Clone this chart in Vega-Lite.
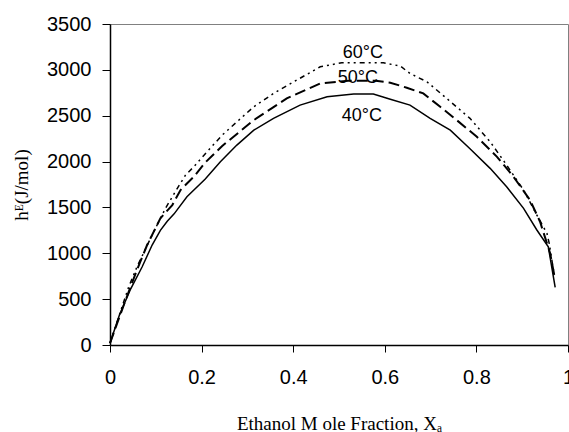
{
  "$schema": "https://vega.github.io/schema/vega-lite/v6.json",
  "width": 458,
  "height": 321,
  "autosize": {"type": "none"},
  "padding": {"left": 110, "top": 24, "right": 1, "bottom": 87},
  "background": "white",
  "config": {
    "view": {"stroke": "#808080", "strokeWidth": 1},
    "axis": {"grid": false, "domainColor": "black", "tickColor": "black", "domainWidth": 1.5, "tickWidth": 1, "labelColor": "black", "titleColor": "black", "labelFont": "Liberation Sans", "labelFontSize": 20, "titleFont": "Liberation Serif", "titleFontWeight": "normal", "titleFontSize": 19, "labelFlush": false, "labelOverlap": false}
  },
  "datasets": {
    "curves": [
      {"series": "40°C", "x": 0, "y": 20},
      {"series": "40°C", "x": 0.02, "y": 320},
      {"series": "40°C", "x": 0.045, "y": 610},
      {"series": "40°C", "x": 0.07, "y": 850},
      {"series": "40°C", "x": 0.092, "y": 1090},
      {"series": "40°C", "x": 0.11, "y": 1250},
      {"series": "40°C", "x": 0.125, "y": 1350},
      {"series": "40°C", "x": 0.14, "y": 1430},
      {"series": "40°C", "x": 0.168, "y": 1616},
      {"series": "40°C", "x": 0.208, "y": 1810},
      {"series": "40°C", "x": 0.241, "y": 1998},
      {"series": "40°C", "x": 0.277, "y": 2180},
      {"series": "40°C", "x": 0.314, "y": 2343},
      {"series": "40°C", "x": 0.357, "y": 2471},
      {"series": "40°C", "x": 0.415, "y": 2616},
      {"series": "40°C", "x": 0.474, "y": 2707},
      {"series": "40°C", "x": 0.532, "y": 2736},
      {"series": "40°C", "x": 0.575, "y": 2736},
      {"series": "40°C", "x": 0.612, "y": 2680},
      {"series": "40°C", "x": 0.655, "y": 2616},
      {"series": "40°C", "x": 0.699, "y": 2471},
      {"series": "40°C", "x": 0.743, "y": 2343},
      {"series": "40°C", "x": 0.786, "y": 2140},
      {"series": "40°C", "x": 0.83, "y": 1926},
      {"series": "40°C", "x": 0.866, "y": 1726},
      {"series": "40°C", "x": 0.903, "y": 1490},
      {"series": "40°C", "x": 0.932, "y": 1254},
      {"series": "40°C", "x": 0.957, "y": 1071},
      {"series": "40°C", "x": 0.972, "y": 629},
      {"series": "50°C", "x": 0, "y": 20},
      {"series": "50°C", "x": 0.034, "y": 490},
      {"series": "50°C", "x": 0.056, "y": 782},
      {"series": "50°C", "x": 0.081, "y": 1090},
      {"series": "50°C", "x": 0.11, "y": 1381},
      {"series": "50°C", "x": 0.136, "y": 1526},
      {"series": "50°C", "x": 0.154, "y": 1690},
      {"series": "50°C", "x": 0.183, "y": 1835},
      {"series": "50°C", "x": 0.208, "y": 1990},
      {"series": "50°C", "x": 0.245, "y": 2170},
      {"series": "50°C", "x": 0.314, "y": 2452},
      {"series": "50°C", "x": 0.386, "y": 2689},
      {"series": "50°C", "x": 0.459, "y": 2852},
      {"series": "50°C", "x": 0.52, "y": 2880},
      {"series": "50°C", "x": 0.58, "y": 2880},
      {"series": "50°C", "x": 0.612, "y": 2860},
      {"series": "50°C", "x": 0.648, "y": 2805},
      {"series": "50°C", "x": 0.684, "y": 2743},
      {"series": "50°C", "x": 0.721, "y": 2597},
      {"series": "50°C", "x": 0.757, "y": 2452},
      {"series": "50°C", "x": 0.801, "y": 2270},
      {"series": "50°C", "x": 0.845, "y": 2052},
      {"series": "50°C", "x": 0.881, "y": 1835},
      {"series": "50°C", "x": 0.917, "y": 1581},
      {"series": "50°C", "x": 0.939, "y": 1344},
      {"series": "50°C", "x": 0.961, "y": 1000},
      {"series": "50°C", "x": 0.97, "y": 763},
      {"series": "60°C", "x": 0, "y": 20},
      {"series": "60°C", "x": 0.041, "y": 636},
      {"series": "60°C", "x": 0.059, "y": 853},
      {"series": "60°C", "x": 0.092, "y": 1199},
      {"series": "60°C", "x": 0.121, "y": 1490},
      {"series": "60°C", "x": 0.147, "y": 1708},
      {"series": "60°C", "x": 0.165, "y": 1853},
      {"series": "60°C", "x": 0.183, "y": 1944},
      {"series": "60°C", "x": 0.212, "y": 2107},
      {"series": "60°C", "x": 0.245, "y": 2289},
      {"series": "60°C", "x": 0.314, "y": 2598},
      {"series": "60°C", "x": 0.357, "y": 2743},
      {"series": "60°C", "x": 0.408, "y": 2889},
      {"series": "60°C", "x": 0.459, "y": 3033},
      {"series": "60°C", "x": 0.506, "y": 3077},
      {"series": "60°C", "x": 0.597, "y": 3077},
      {"series": "60°C", "x": 0.634, "y": 3041},
      {"series": "60°C", "x": 0.655, "y": 2961},
      {"series": "60°C", "x": 0.692, "y": 2870},
      {"series": "60°C", "x": 0.735, "y": 2689},
      {"series": "60°C", "x": 0.786, "y": 2471},
      {"series": "60°C", "x": 0.83, "y": 2216},
      {"series": "60°C", "x": 0.866, "y": 1962},
      {"series": "60°C", "x": 0.903, "y": 1690},
      {"series": "60°C", "x": 0.932, "y": 1417},
      {"series": "60°C", "x": 0.954, "y": 1218},
      {"series": "60°C", "x": 0.959, "y": 1108},
      {"series": "60°C", "x": 0.97, "y": 763}
    ],
    "labels": [
      {"label": "60°C", "x": 0.552, "y": 3180},
      {"label": "50°C", "x": 0.541, "y": 2907},
      {"label": "40°C", "x": 0.55, "y": 2496}
    ]
  },
  "layer": [
    {
      "data": {"name": "curves"},
      "transform": [{"filter": "datum.series === '40°C'"}],
      "mark": {"type": "line", "color": "black", "strokeWidth": 1.5},
      "encoding": {
        "x": {"field": "x", "type": "quantitative", "scale": {"domain": [0, 1], "nice": false, "zero": false},
          "axis": {"values": [0, 0.2, 0.4, 0.6, 0.8, 1], "format": "~g", "tickSize": 7, "labelPadding": 15, "title": "Ethanol M ole Fraction, Xₐ", "titlePadding": 27}},
        "y": {"field": "y", "type": "quantitative", "scale": {"domain": [0, 3500], "nice": false},
          "axis": {"values": [0, 500, 1000, 1500, 2000, 2500, 3000, 3500], "format": "d", "tickSize": 8, "labelPadding": 11, "title": "hᴱ(J/mol)", "titlePadding": 15}},
        "order": {"field": "x", "type": "quantitative"}
      }
    },
    {
      "data": {"name": "curves"},
      "transform": [{"filter": "datum.series === '50°C'"}],
      "mark": {"type": "line", "color": "black", "strokeWidth": 2, "strokeDash": [11, 5]},
      "encoding": {
        "x": {"field": "x", "type": "quantitative"},
        "y": {"field": "y", "type": "quantitative"},
        "order": {"field": "x", "type": "quantitative"}
      }
    },
    {
      "data": {"name": "curves"},
      "transform": [{"filter": "datum.series === '60°C'"}],
      "mark": {"type": "line", "color": "black", "strokeWidth": 1.5, "strokeDash": [5, 4, 2, 4, 2, 4]},
      "encoding": {
        "x": {"field": "x", "type": "quantitative"},
        "y": {"field": "y", "type": "quantitative"},
        "order": {"field": "x", "type": "quantitative"}
      }
    },
    {
      "data": {"name": "labels"},
      "mark": {"type": "text", "font": "Liberation Sans", "fontSize": 18, "color": "black", "align": "center", "baseline": "middle"},
      "encoding": {
        "x": {"field": "x", "type": "quantitative"},
        "y": {"field": "y", "type": "quantitative"},
        "text": {"field": "label"}
      }
    }
  ]
}
